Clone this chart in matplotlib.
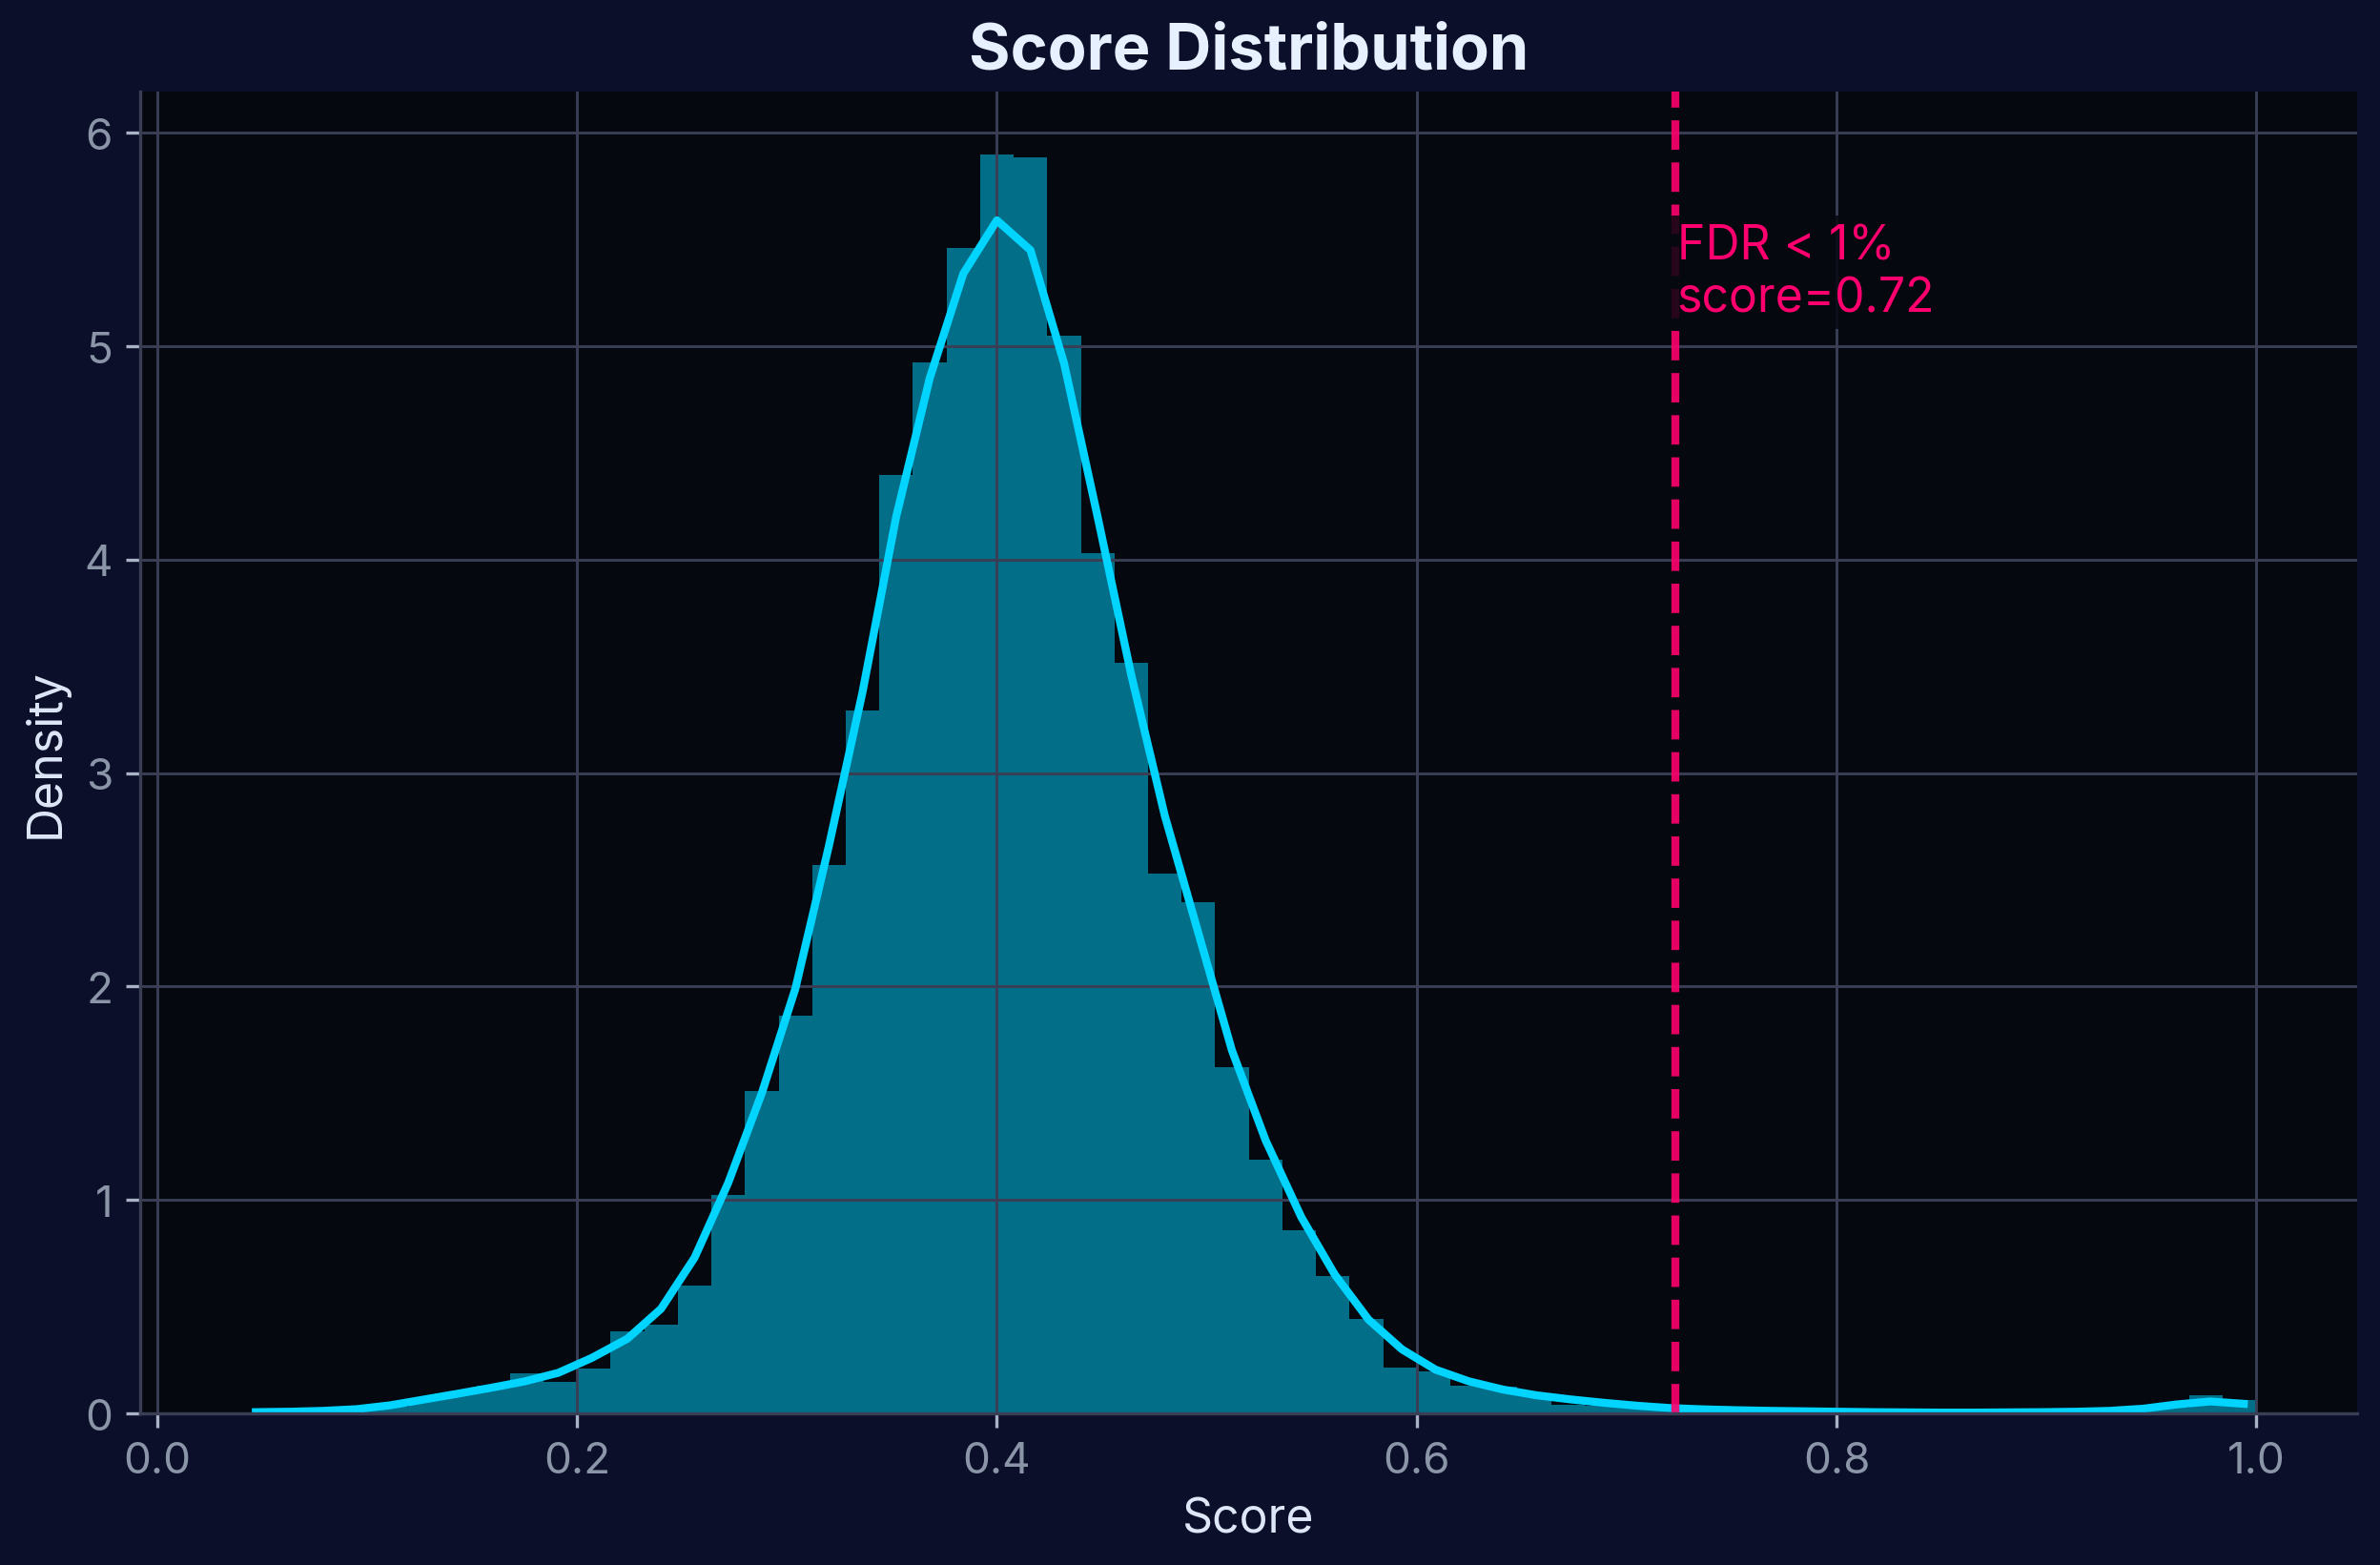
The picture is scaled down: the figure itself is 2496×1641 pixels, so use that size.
import numpy as np
import matplotlib
matplotlib.use('Agg')
import matplotlib.pyplot as plt

plt.rcParams['font.family'] = ['Inter', 'DejaVu Sans']

# histogram: 60 bins between 0.04 and 1.0 (density)
bin_lo, bin_hi, n_bins = 0.04, 1.0, 60
hist_density = [0.000, 0.005, 0.010, 0.015, 0.030, 0.073, 0.100, 0.130, 0.189, 0.147,
                0.209, 0.384, 0.416, 0.599, 1.023, 1.511, 1.864, 2.568, 3.294, 4.397,
                4.923, 5.460, 5.898, 5.887, 5.051, 4.029, 3.517, 2.530, 2.395, 1.622,
                1.189, 0.859, 0.644, 0.441, 0.214, 0.195, 0.131, 0.125, 0.080, 0.042,
                0.035, 0.030, 0.020, 0.020, 0.015, 0.012, 0.010, 0.010, 0.008, 0.006,
                0.005, 0.004, 0.005, 0.006, 0.008, 0.010, 0.015, 0.025, 0.083, 0.065]

# kde curve
kde_x = [0.047, 0.063, 0.079, 0.095, 0.111, 0.127, 0.143, 0.159, 0.175, 0.191,
         0.207, 0.224, 0.240, 0.256, 0.272, 0.288, 0.304, 0.320, 0.336, 0.352,
         0.368, 0.384, 0.400, 0.416, 0.432, 0.448, 0.464, 0.480, 0.496, 0.512,
         0.528, 0.545, 0.561, 0.577, 0.593, 0.609, 0.625, 0.641, 0.657, 0.673,
         0.689, 0.705, 0.721, 0.737, 0.753, 0.769, 0.785, 0.801, 0.817, 0.833,
         0.849, 0.866, 0.882, 0.898, 0.914, 0.930, 0.946, 0.962, 0.978, 0.994]
kde_y = [0.006, 0.008, 0.012, 0.020, 0.038, 0.065, 0.092, 0.120, 0.150, 0.190,
         0.260, 0.350, 0.490, 0.730, 1.080, 1.500, 1.990, 2.660, 3.380, 4.200,
         4.850, 5.340, 5.590, 5.450, 4.920, 4.200, 3.460, 2.800, 2.250, 1.700,
         1.280, 0.920, 0.650, 0.440, 0.300, 0.205, 0.150, 0.112, 0.085, 0.066,
         0.050, 0.036, 0.025, 0.019, 0.015, 0.012, 0.010, 0.008, 0.006, 0.005,
         0.004, 0.004, 0.005, 0.006, 0.008, 0.012, 0.022, 0.042, 0.056, 0.045]

fdr_threshold = 0.723

fig_bg = '#0B0F2A'
ax_bg = '#05080F'
grid_c = '#3A3E55'
cyan = '#00D4FF'
pink = '#FF006E'

fig = plt.figure(figsize=(8.32, 5.4733), dpi=300, facecolor=fig_bg)
ax = fig.add_axes([0.059, 0.0968, 0.9314, 0.8441])
ax.set_facecolor(ax_bg)

edges = np.linspace(bin_lo, bin_hi, n_bins + 1)
centers = 0.5 * (edges[:-1] + edges[1:])
ax.hist(centers, bins=edges, weights=hist_density, color=cyan, alpha=0.5)
ax.plot(kde_x, kde_y, color=cyan, lw=2.0)

ax.axvline(fdr_threshold, color=pink, ls='--', lw=2.0, alpha=0.9)
ymax = ax.get_ylim()[1]
ax.text(fdr_threshold + 0.001, ymax * 0.9, 'FDR < 1%%\nscore=%.2f' % fdr_threshold,
        color=pink, fontsize=12, va='top', ha='left',
        bbox=dict(facecolor=ax_bg, alpha=0.85, edgecolor='none', pad=2))

ax.grid(True, color=grid_c, lw=0.7)
for s in ['top', 'right']:
    ax.spines[s].set_visible(False)
for s in ['left', 'bottom']:
    ax.spines[s].set_color(grid_c)
    ax.spines[s].set_linewidth(0.8)

ax.tick_params(colors='#AAB3C5', labelcolor='#8B95A8', labelsize=11)
ax.set_xlabel('Score', color='#DDE7F7', fontsize=12)
ax.set_ylabel('Density', color='#DDE7F7', fontsize=12)
ax.set_title('Score Distribution', color='#E6F0FF', fontsize=16, fontweight='bold')

fig.savefig('out.png', dpi=300, facecolor=fig_bg)
